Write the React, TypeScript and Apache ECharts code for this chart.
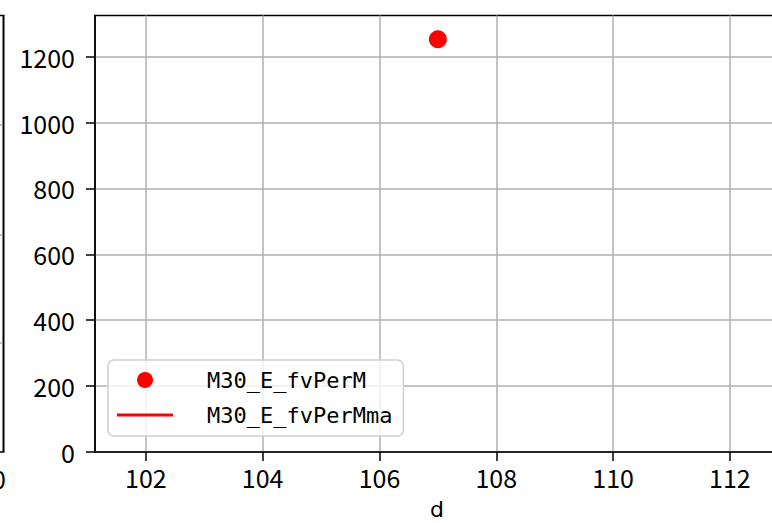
import React, { useEffect, useRef } from "react";
import * as echarts from "echarts";

// data
const scatterName = "M30_E_fvPerM";
const maName = "M30_E_fvPerMma";
const dValues = [107];
const fvPerM = [1253];
const fvPerMma: (number | null)[] = [null];

const xTicks = [102, 104, 106, 108, 110, 112];
const yTicks = [0, 200, 400, 600, 800, 1000, 1200];
const xRange = [101.13, 112.84];
const yRange = [0, 1325];
const leftPanelTick = "100";

const tickFont = "'Noto Sans CJK SC', 'DejaVu Sans', sans-serif";
const nameFont = "'DejaVu Sans', sans-serif";
const monoFont = "'DejaVu Sans Mono', monospace";

export default function App() {
  const ref = useRef<HTMLDivElement>(null);
  useEffect(() => {
    if (!ref.current) return;
    const chart = echarts.init(ref.current, undefined, { renderer: "svg" });
    chart.setOption({
      animation: false,
      backgroundColor: "#fff",
      grid: {
        left: 95,
        top: 15.5,
        bottom: 71,
        right: 51,
        containLabel: false,
        outerBoundsMode: "none",
        show: true,
        borderColor: "#000",
        borderWidth: 1.5,
        backgroundColor: "transparent",
      },
      xAxis: {
        type: "value",
        min: xRange[0],
        max: xRange[1],
        name: "d",
        nameLocation: "middle",
        nameGap: 47,
        nameTextStyle: { fontFamily: nameFont, fontSize: 22, lineHeight: 20, color: "#000" },
        axisLine: { show: true, onZero: false, lineStyle: { color: "#000", width: 1.5 } },
        axisTick: { show: true, length: 9, lineStyle: { color: "#000", width: 1.5 }, customValues: xTicks },
        axisLabel: {
          fontFamily: tickFont,
          fontSize: 25,
          color: "#000",
          margin: 12,
          customValues: xTicks,
          formatter: (v: number) => String(v),
        },
        splitLine: { show: true, lineStyle: { color: "#b0b0b0", width: 1.5 } },
      },
      yAxis: {
        type: "value",
        min: yRange[0],
        max: yRange[1],
        axisLine: { show: true, lineStyle: { color: "#000", width: 1.5 } },
        axisTick: { show: true, length: 9, lineStyle: { color: "#000", width: 1.5 }, customValues: yTicks },
        axisLabel: {
          fontFamily: tickFont,
          fontSize: 25,
          color: "#000",
          margin: 20,
          customValues: yTicks,
          formatter: (v: number) => String(v),
        },
        splitLine: { show: true, lineStyle: { color: "#b0b0b0", width: 1.5 } },
      },
      legend: {
        orient: "vertical",
        left: 108,
        top: 360,
        padding: [8, 11, 9, 9],
        itemGap: 11,
        itemWidth: 56,
        itemHeight: 16,
        borderColor: "#d0d0d0",
        borderWidth: 1.5,
        borderRadius: 6,
        backgroundColor: "rgba(255,255,255,0.8)",
        textStyle: {
          fontFamily: monoFont,
          fontSize: 22,
          lineHeight: 24,
          color: "#000",
          padding: [0, 0, 0, 29],
        },
        data: [
          { name: scatterName, icon: "circle" },
          { name: maName, icon: "path://M0,0H56V3H0Z" },
        ],
      },
      graphic: [
        { type: "line", shape: { x1: 3.5, y1: 15.5, x2: 3.5, y2: 452 }, style: { stroke: "#000", lineWidth: 2 } },
        { type: "line", shape: { x1: 0, y1: 15.5, x2: 4.5, y2: 15.5 }, style: { stroke: "#000", lineWidth: 1.5 } },
        { type: "line", shape: { x1: 0, y1: 452, x2: 4.5, y2: 452 }, style: { stroke: "#000", lineWidth: 1.5 } },
        { type: "line", shape: { x1: 0, y1: 125, x2: 2.5, y2: 125 }, style: { stroke: "#b0b0b0", lineWidth: 1.5 } },
        { type: "line", shape: { x1: 0, y1: 235, x2: 2.5, y2: 235 }, style: { stroke: "#b0b0b0", lineWidth: 1.5 } },
        { type: "line", shape: { x1: 0, y1: 343, x2: 2.5, y2: 343 }, style: { stroke: "#b0b0b0", lineWidth: 1.5 } },
        {
          type: "text",
          x: 6,
          y: 478,
          style: {
            text: leftPanelTick,
            font: `25px ${tickFont}`,
            fill: "#000",
            align: "right",
            verticalAlign: "middle",
          },
        },
      ],
      series: [
        {
          name: scatterName,
          type: "scatter",
          symbol: "circle",
          symbolSize: 18,
          itemStyle: { color: "#ff0000", opacity: 1 },
          data: dValues.map((d, i) => [d, fvPerM[i]]),
          z: 5,
        },
        {
          name: maName,
          type: "line",
          symbol: "none",
          lineStyle: { color: "#ff0000", width: 3 },
          itemStyle: { color: "#ff0000" },
          data: dValues.map((d, i) => [d, fvPerMma[i]]),
        },
      ],
    });
    return () => chart.dispose();
  }, []);
  return (
    <div style={{ position: "fixed", left: 0, top: 0, width: 772, height: 523, overflow: "hidden", background: "#fff" }}>
      <div ref={ref} style={{ width: 830, height: 523 }} />
    </div>
  );
}
